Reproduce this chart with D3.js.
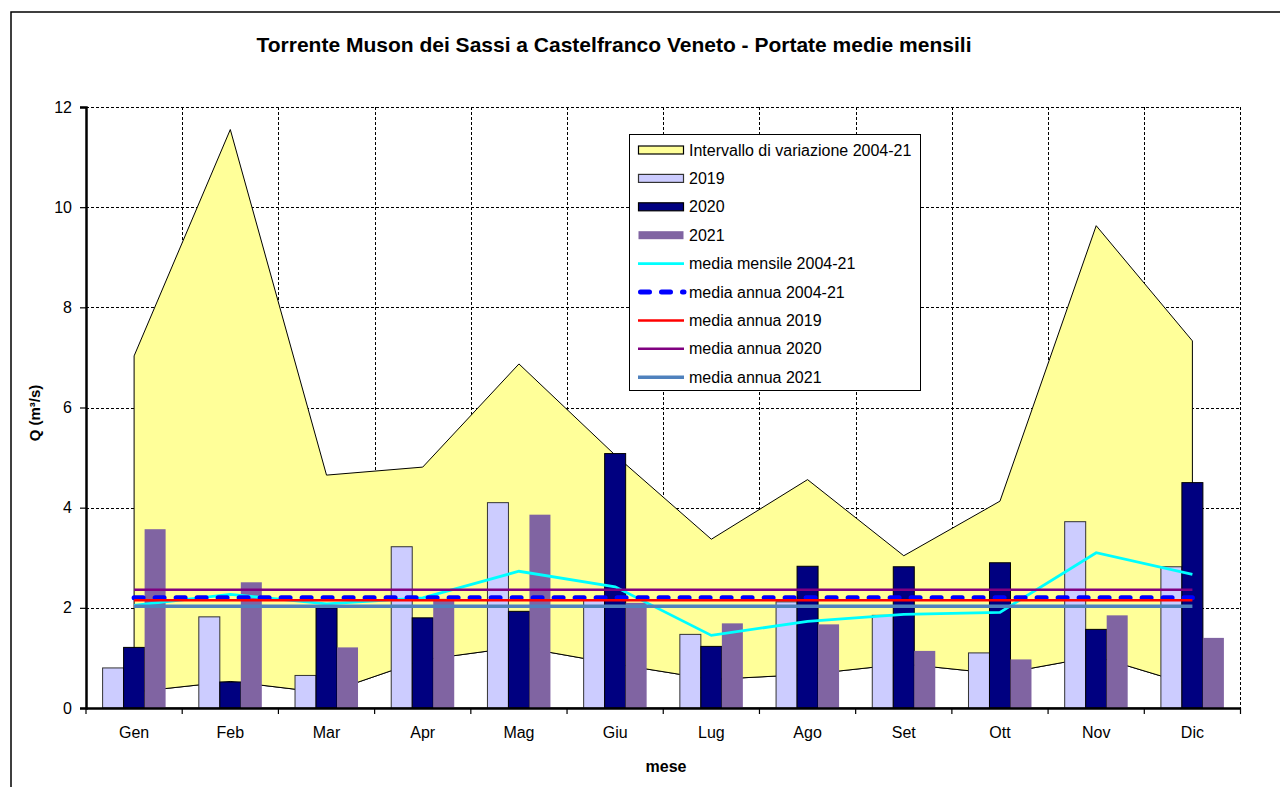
<!DOCTYPE html>
<html>
<head>
<meta charset="utf-8">
<script src="https://cdn.jsdelivr.net/npm/d3@7/dist/d3.min.js"></script>
<style>
  html, body { margin: 0; padding: 0; background: #fff; }
  svg { display: block; font-family: "Liberation Sans", Arial, sans-serif; }
</style>
</head>
<body>
<svg id="chart" width="1280" height="787"></svg>
<script>
// ---- data ----
const months = ["Gen","Feb","Mar","Apr","Mag","Giu","Lug","Ago","Set","Ott","Nov","Dic"];
const years = ["2019","2020","2021"];
const v2019 = [0.80, 1.82, 0.65, 3.22, 4.10, 2.15, 1.47, 2.12, 1.85, 1.10, 3.72, 2.82];
const v2020 = [1.21, 0.52, 2.00, 1.80, 1.93, 5.08, 1.23, 2.83, 2.82, 2.90, 1.57, 4.50];
const v2021 = [3.57, 2.51, 1.21, 2.18, 3.86, 2.10, 1.69, 1.67, 1.14, 0.97, 1.85, 1.40];
const rangeMin = [0.32, 0.53, 0.30, 0.96, 1.22, 0.88, 0.57, 0.67, 0.88, 0.68, 1.03, 0.45];
const rangeMax = [7.03, 11.55, 4.65, 4.81, 6.87, 5.05, 3.37, 4.56, 3.04, 4.13, 9.63, 7.33];
const meanMonthly = [2.05, 2.27, 2.08, 2.20, 2.73, 2.42, 1.45, 1.73, 1.87, 1.91, 3.10, 2.67];
const annualMean = [2.20, 2.20, 2.20, 2.20, 2.20, 2.20, 2.20, 2.20, 2.20, 2.20, 2.20, 2.20];
const annual2019 = [2.15, 2.15, 2.15, 2.15, 2.15, 2.15, 2.15, 2.15, 2.15, 2.15, 2.15, 2.15];
const annual2020 = [2.36, 2.36, 2.36, 2.36, 2.36, 2.36, 2.36, 2.36, 2.36, 2.36, 2.36, 2.36];
const annual2021 = [2.03, 2.03, 2.03, 2.03, 2.03, 2.03, 2.03, 2.03, 2.03, 2.03, 2.03, 2.03];
const yTicks = [0, 2, 4, 6, 8, 10, 12];
const titleText = "Torrente Muson dei Sassi a Castelfranco Veneto - Portate medie mensili";
const yLabel = "Q (m³/s)";
const xLabel = "mese";

// ---- layout ----
const svg = d3.select("#chart");
const L = 86, R = 1240.5, T = 107, B = 708;

const x = d3.scaleBand().domain(months).range([L, R]).paddingInner(0).paddingOuter(0);
const bw = x.bandwidth();
const groupW = 63;
const x1 = d3.scaleBand().domain(years).range([(bw - groupW) / 2, (bw + groupW) / 2]);
const y = d3.scaleLinear().domain([0, 12]).range([B, T]);
const cx = m => x(m) + bw / 2;

// outer frame
svg.append("rect").attr("x", 11).attr("y", 12).attr("width", 1300).attr("height", 800)
  .attr("fill", "none").attr("stroke", "#000").attr("stroke-width", 1.5);

// title
svg.append("text").attr("x", 614).attr("y", 52).attr("text-anchor", "middle")
  .attr("font-size", 21).attr("font-weight", "bold").text(titleText);

// grid
const grid = svg.append("g").attr("stroke", "#000").attr("stroke-width", 1).attr("stroke-dasharray", "3,2");
yTicks.filter(t => t > 0).forEach(t => {
  grid.append("line").attr("x1", L).attr("x2", R).attr("y1", Math.round(y(t)) + 0.5).attr("y2", Math.round(y(t)) + 0.5);
});
months.forEach((m, i) => {
  const xx = x(m) + bw;
  grid.append("line").attr("x1", Math.round(xx) + 0.5).attr("x2", Math.round(xx) + 0.5).attr("y1", T).attr("y2", B);
});

// range area
const idx = d3.range(months.length);
const areaMin = d3.area().x(i => cx(months[i])).y0(y(0)).y1(i => y(rangeMin[i]));
const areaRange = d3.area().x(i => cx(months[i])).y0(i => y(rangeMin[i])).y1(i => y(rangeMax[i]));
svg.append("path").datum(idx).attr("d", areaMin).attr("fill", "#fff").attr("stroke", "#000").attr("stroke-width", 1);
svg.append("path").datum(idx).attr("d", areaRange).attr("fill", "#FFFF99").attr("stroke", "#000").attr("stroke-width", 1);

// bars
const barSeries = [
  { key: "2019", vals: v2019, fill: "#CCCCFF", stroke: "#333" },
  { key: "2020", vals: v2020, fill: "#000080", stroke: "#000" },
  { key: "2021", vals: v2021, fill: "#8064A2", stroke: "none" }
];
barSeries.forEach(s => {
  svg.append("g").selectAll("rect").data(s.vals).join("rect")
    .attr("x", (d, i) => x(months[i]) + x1(s.key))
    .attr("y", d => y(d))
    .attr("width", x1.bandwidth())
    .attr("height", d => y(0) - y(d))
    .attr("fill", s.fill)
    .attr("stroke", s.stroke)
    .attr("stroke-width", 1);
});

// lines
const lineGen = vals => d3.line().x((d, i) => cx(months[i])).y(d => y(d))(vals);
const lineSeries = [
  { name: "media mensile 2004-21", vals: meanMonthly, color: "#00FFFF", width: 2.8 },
  { name: "media annua 2004-21", vals: annualMean, color: "#0000FF", width: 5, dash: "9,12", cap: "round" },
  { name: "media annua 2019", vals: annual2019, color: "#FF0000", width: 2.5 },
  { name: "media annua 2020", vals: annual2020, color: "#800080", width: 2.5 },
  { name: "media annua 2021", vals: annual2021, color: "#4F81BD", width: 3.5 }
];
lineSeries.forEach(s => {
  svg.append("path").attr("d", lineGen(s.vals)).attr("fill", "none")
    .attr("stroke", s.color).attr("stroke-width", s.width)
    .attr("stroke-dasharray", s.dash || null).attr("stroke-linecap", s.cap || "butt");
});

// axes
const yAxis = d3.axisLeft(y).tickValues(yTicks).tickSize(6).tickPadding(8);
const gy = svg.append("g").attr("transform", `translate(${L},0)`).call(yAxis);
gy.select(".domain").attr("stroke-width", 2.5);
gy.selectAll(".tick line").attr("stroke-width", 1.2);
gy.selectAll("text").attr("font-size", 16).attr("font-family", "Liberation Sans, Arial, sans-serif").attr("fill", "#000");

const xAxis = d3.axisBottom(x).tickSize(0).tickPadding(19);
const gx = svg.append("g").attr("transform", `translate(0,${B})`).call(xAxis);
gx.select(".domain").attr("stroke-width", 2.5);
gx.selectAll("text").attr("font-size", 16).attr("font-family", "Liberation Sans, Arial, sans-serif").attr("fill", "#000");
// boundary ticks
const bounds = [L].concat(months.map(m => x(m) + bw));
gx.selectAll(".btick").data(bounds).join("line").attr("class", "btick")
  .attr("x1", d => d).attr("x2", d => d).attr("y1", 0).attr("y2", 6)
  .attr("stroke", "#000").attr("stroke-width", 1.2);

// axis titles
svg.append("text").attr("transform", "translate(40,413) rotate(-90)").attr("text-anchor", "middle")
  .attr("font-size", 15).attr("font-weight", "bold").text(yLabel);
svg.append("text").attr("x", 666).attr("y", 772).attr("text-anchor", "middle")
  .attr("font-size", 16).attr("font-weight", "bold").text(xLabel);

// legend
const lg = svg.append("g");
lg.append("rect").attr("x", 629.5).attr("y", 134.5).attr("width", 291).attr("height", 256)
  .attr("fill", "#fff").attr("stroke", "#000").attr("stroke-width", 1);
const legendItems = [
  { type: "rect", name: "Intervallo di variazione 2004-21", fill: "#FFFF99", stroke: "#000" },
  { type: "rect", name: "2019", fill: "#CCCCFF", stroke: "#333" },
  { type: "rect", name: "2020", fill: "#000080", stroke: "#000" },
  { type: "rect", name: "2021", fill: "#8064A2", stroke: "none" }
].concat(lineSeries.map(s => Object.assign({ type: "line" }, s)));
legendItems.forEach((it, i) => {
  const cy = 150 + i * 28.4;
  if (it.type === "rect") {
    lg.append("rect").attr("x", 638.5).attr("y", cy - 4).attr("width", 45).attr("height", 8)
      .attr("fill", it.fill).attr("stroke", it.stroke).attr("stroke-width", 1.2);
  } else {
    lg.append("line").attr("x1", it.dash ? 640.5 : 638).attr("x2", 684).attr("y1", cy).attr("y2", cy)
      .attr("stroke", it.color).attr("stroke-width", it.width)
      .attr("stroke-dasharray", it.dash || null).attr("stroke-linecap", it.cap || "butt");
  }
  lg.append("text").attr("x", 689).attr("y", cy + 5.5).attr("font-size", 16).text(it.name);
});
</script>
</body>
</html>
